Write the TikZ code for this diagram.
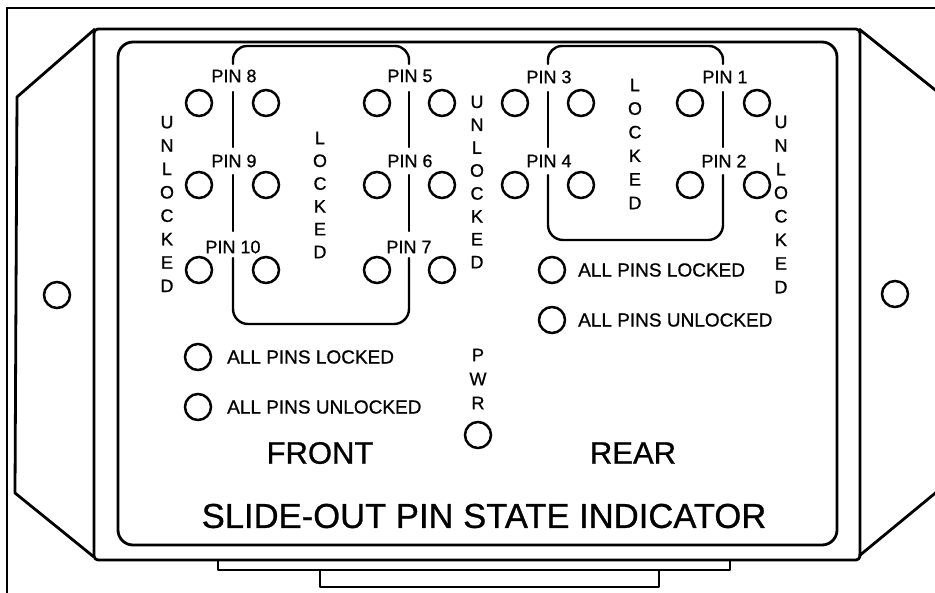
\documentclass[tikz,border=0pt]{standalone}
\usepackage{fontspec}
\setmainfont{Liberation Sans}[FakeBold=0.8]
\newcommand\fsz[2]{\fontsize{#1}{#2}\selectfont}
\begin{document}
\begin{tikzpicture}[x=1pt,y=-1pt,
  frameline/.style={line width=1.3pt},
  body/.style={line width=2.8pt, line join=round},
  tabline/.style={line width=2.2pt, line join=round},
  lamp/.style={circle, draw, line width=2.5pt, minimum size=26pt, inner sep=0pt},
  pinlbl/.style={font=\fsz{18}{18}, inner sep=0pt},
  vword/.style={align=center, inner sep=0pt},
  alltxt/.style={font=\fsz{19}{19}, inner sep=0pt, anchor=west},
  bigtxt/.style={font=\fsz{31}{31}, inner sep=0pt},
  bracket/.style={line width=2.4pt, line cap=round, line join=round}]
\useasboundingbox (0,0) rectangle (935,593);
\clip (0,0) rectangle (935,593);
\fill[white] (0,0) rectangle (935,593);
% outer frame
\draw[frameline] (7,600) -- (7,8) -- (940,8);
% flanges
\draw[body] (95,29) -- (17,97) -- (15,493) -- (94,557);
\draw[body] (859,29) -- (939,93) -- (939,490) -- (859,556);
% main body
\draw[body, rounded corners=4pt] (94,29) rectangle (860,560);
% inner panel
\draw[body, rounded corners=15pt] (118,42) rectangle (837,545);
% bottom tabs
\draw[tabline] (218,561) -- (218,570) -- (730,570) -- (730,561);
\draw[tabline] (320,570) -- (320,587) -- (659,587) -- (659,570);
% flange holes
\node[lamp] (holeL) at (57,295) {};
\node[lamp] (holeR) at (895,294) {};

% ---------- FRONT group brackets
\draw[bracket, rounded corners=14pt] (233,64) -- (233,46) -- (409,46) -- (409,64);
\draw[bracket] (233,92) -- (233,147);
\draw[bracket] (233,175) -- (233,231);
\draw[bracket] (409,92) -- (409,147);
\draw[bracket] (409,175) -- (409,231);
\draw[bracket, rounded corners=15pt] (233,258) -- (233,324) -- (409,324) -- (409,258);

% ---------- REAR group brackets
\draw[bracket, rounded corners=14pt] (548,64) -- (548,46) -- (723,46) -- (723,64);
\draw[bracket] (548,92) -- (548,147);
\draw[bracket] (723,92) -- (723,147);
\draw[bracket, rounded corners=15pt] (548,175) -- (548,240) -- (723,240) -- (723,175);

% ---------- front lamps
\node[lamp] (p8u) at (199,103) {};
\node[lamp] (p8l) at (266,103) {};
\node[lamp] (p9u) at (199,185) {};
\node[lamp] (p9l) at (266,185) {};
\node[lamp] (p10u) at (199,270) {};
\node[lamp] (p10l) at (266,270) {};
\node[lamp] (p5l) at (377,103) {};
\node[lamp] (p5u) at (442,103) {};
\node[lamp] (p6l) at (377,185) {};
\node[lamp] (p6u) at (442,185) {};
\node[lamp] (p7l) at (377,270) {};
\node[lamp] (p7u) at (442,270) {};
% ---------- rear lamps
\node[lamp] (p3u) at (515,103) {};
\node[lamp] (p3l) at (581,103) {};
\node[lamp] (p4u) at (515,185) {};
\node[lamp] (p4l) at (581,185) {};
\node[lamp] (p1l) at (690,103) {};
\node[lamp] (p1u) at (757,103) {};
\node[lamp] (p2l) at (690,185) {};
\node[lamp] (p2u) at (757,185) {};

% pin labels
\node[pinlbl] (t8) at (234,76) {PIN 8};
\node[pinlbl] (t9) at (234,161) {PIN 9};
\node[pinlbl] (t10) at (233,247) {PIN 10};
\node[pinlbl] (t5) at (410,76) {PIN 5};
\node[pinlbl] (t6) at (410,161) {PIN 6};
\node[pinlbl] (t7) at (409,247) {PIN 7};
\node[pinlbl] (t3) at (549,77) {PIN 3};
\node[pinlbl] (t4) at (549,161) {PIN 4};
\node[pinlbl] (t1) at (725,77) {PIN 1};
\node[pinlbl] (t2) at (724,161) {PIN 2};

% vertical words
\node[vword, font=\fsz{18}{23.4}] (fu) at (167,204) {U\\N\\L\\O\\C\\K\\E\\D};
\node[vword, font=\fsz{18}{22.8}] (fl) at (320,195) {L\\O\\C\\K\\E\\D};
\node[vword, font=\fsz{18}{22.9}] (ru1) at (477,182) {U\\N\\L\\O\\C\\K\\E\\D};
\node[vword, font=\fsz{18}{23.6}] (rl) at (635,144) {L\\O\\C\\K\\E\\D};
\node[vword, font=\fsz{18}{23.6}] (ru2) at (781,204.5) {U\\N\\L\\O\\C\\K\\E\\D};
\node[vword, font=\fsz{18}{24}] (pwr) at (478,379) {P\\W\\R};
\node[lamp] (pwrlamp) at (478,435) {};

% all pins lamps
\node[lamp] (fal) at (198,357) {};
\node[alltxt] (falt) at (227,357) {ALL PINS LOCKED};
\node[lamp] (fau) at (198,407) {};
\node[alltxt] (faut) at (227,407) {ALL PINS UNLOCKED};
\node[lamp] (ral) at (552,270) {};
\node[alltxt] (ralt) at (578,270) {ALL PINS LOCKED};
\node[lamp] (rau) at (552,320) {};
\node[alltxt] (raut) at (578,320) {ALL PINS UNLOCKED};

% big labels
\node[bigtxt] (front) at (320,453) {FRONT};
\node[bigtxt] (rear) at (633,453) {REAR};
\node[inner sep=0pt, font=\fsz{34.6}{35}] (title) at (484,516) {SLIDE-OUT PIN STATE INDICATOR};
\end{tikzpicture}
\end{document}
